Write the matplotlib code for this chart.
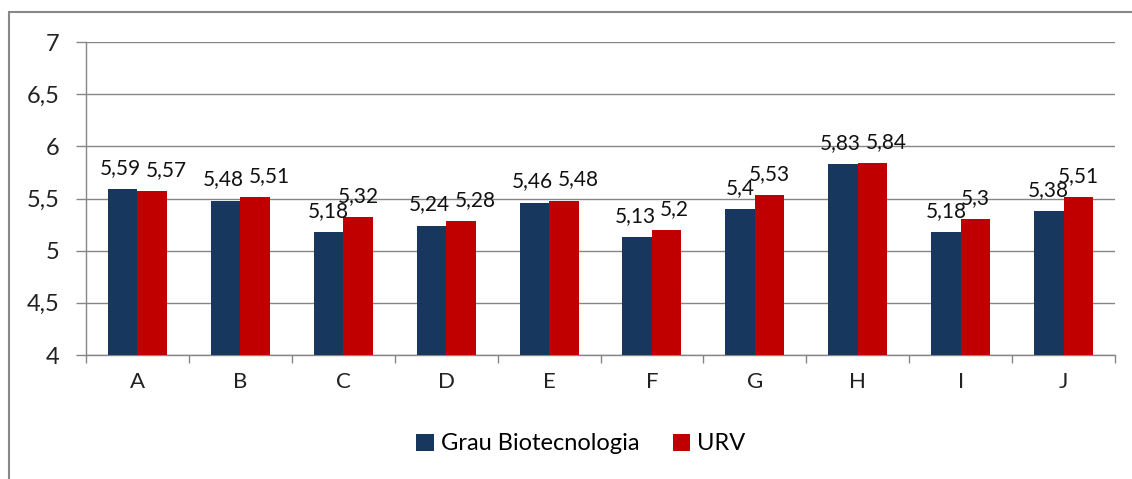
import matplotlib.pyplot as plt
import matplotlib.patches as mpatches
import numpy as np

plt.rcParams['font.family'] = ['Lato', 'DejaVu Sans']

categories = ['A', 'B', 'C', 'D', 'E', 'F', 'G', 'H', 'I', 'J']
grau = [5.59, 5.48, 5.18, 5.24, 5.46, 5.13, 5.40, 5.83, 5.18, 5.38]
urv = [5.57, 5.51, 5.32, 5.28, 5.48, 5.20, 5.53, 5.84, 5.30, 5.51]
series_names = ['Grau Biotecnologia', 'URV']
colors = ['#17375E', '#C00000']


def fmt(v):
    s = f'{v:.2f}'.rstrip('0').rstrip('.')
    return s.replace('.', ',')


def main() -> None:
    fig = plt.figure(figsize=(11.32, 4.79), dpi=100)
    ax = fig.add_axes([86 / 1132, 1 - 355 / 479, 1029 / 1132, 313 / 479])

    # outer chart border
    fig.patches.append(mpatches.Rectangle((9 / 1132, -0.01), 1.02, 1 - 12 / 479 + 0.01,
                                          transform=fig.transFigure, fill=False,
                                          edgecolor='#888888', linewidth=1.5))

    x = np.arange(len(categories))
    w = 0.287
    grid_c = '#868686'
    for i, (vals, col, name) in enumerate(zip([grau, urv], colors, series_names)):
        pos = x + (i - 0.5) * w
        ax.bar(pos, np.array(vals) - 4, bottom=4, width=w, color=col, label=name, zorder=3)

    # value labels; when the two labels of a group would collide, push them apart
    dy = 8
    for xi, g, u in zip(x, grau, urv):
        if abs(g - u) < 0.1:
            ax.annotate(fmt(g), (xi, g), xytext=(2.5, dy), textcoords='offset points',
                        ha='right', va='bottom', fontsize=15, color='#111111')
            ax.annotate(fmt(u), (xi, u), xytext=(6, dy), textcoords='offset points',
                        ha='left', va='bottom', fontsize=15, color='#111111')
        else:
            for p, v in [(xi - w / 2, g), (xi + w / 2, u)]:
                ax.annotate(fmt(v), (p, v), xytext=(0, dy), textcoords='offset points',
                            ha='center', va='bottom', fontsize=15, color='#111111')

    ax.set_xlim(-0.5, len(categories) - 0.5)
    ax.set_ylim(4, 7)
    yt = np.arange(4, 7.01, 0.5)
    ax.set_yticks(yt)
    ax.set_yticklabels([fmt(v) for v in yt], fontsize=17, color='#222222')
    ax.set_xticks(x)
    ax.set_xticklabels(categories, fontsize=16, color='#222222')
    ax.set_xticks(np.arange(-0.5, len(categories)), minor=True)
    ax.tick_params(axis='x', which='major', length=0, pad=12)
    ax.tick_params(axis='x', which='minor', length=6, color=grid_c, width=1)
    ax.tick_params(axis='y', length=7, color=grid_c, width=1, pad=12)
    ax.grid(axis='y', color=grid_c, linewidth=1, zorder=0)
    for s in ['top', 'right']:
        ax.spines[s].set_visible(False)
    for s in ['left', 'bottom']:
        ax.spines[s].set_color(grid_c)
        ax.spines[s].set_linewidth(1)

    fig.legend(loc='center', bbox_to_anchor=(581 / 1132, 1 - 444 / 479), ncol=2,
               frameon=False, fontsize=17, handlelength=0.75, handleheight=0.75,
               handletextpad=0.3, columnspacing=1.4)

    fig.savefig('out.png', dpi=100)
    plt.close(fig)


if __name__ == "__main__":
    main()
